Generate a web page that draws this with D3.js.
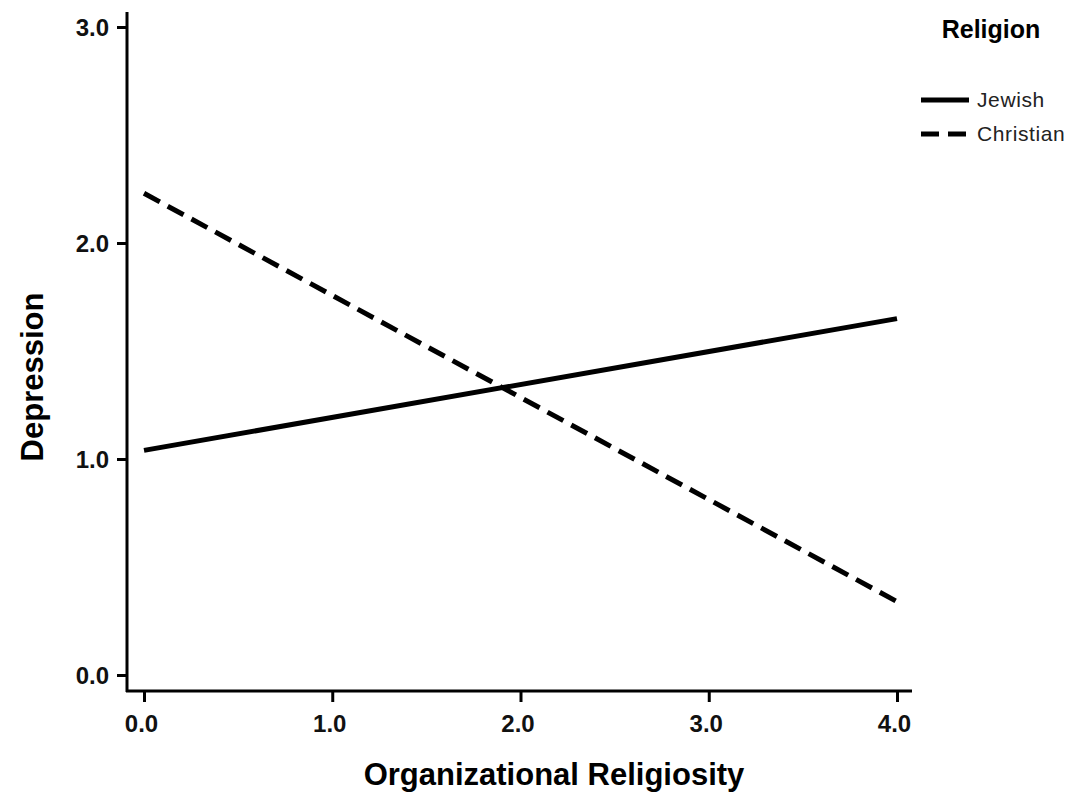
<!DOCTYPE html>
<html>
<head>
<meta charset="utf-8">
<script src="https://cdn.jsdelivr.net/npm/d3@7"></script>
<style>
	body { margin: 0; background: #fff; }
	text { font-family: "Liberation Sans", Arial, sans-serif; }
</style>
</head>
<body>
<svg id="chart" width="1073" height="796"></svg>
<script>
var xTicks = [0, 1, 2, 3, 4],
	yTicks = [0, 1, 2, 3];

var religions = ["Jewish", "Christian"],
	dashes = ["none", "18,9"];

// predicted depression at organizational religiosity 0 and 4
var orgRel = [0, 4],
	jewish = [1.04, 1.65],
	christian = [2.23, 0.34];

var svg = d3.select("#chart");

var x = d3.scaleLinear().domain([0, 4]).range([144, 897]);
var y = d3.scaleLinear().domain([0, 3]).range([675, 27]);

// axes
var xAxis = svg.append("g")
	.attr("transform", "translate(0,691)")
	.call(d3.axisBottom(x).tickValues(xTicks).tickFormat(d3.format(".1f")).tickSize(11).tickSizeOuter(0));
xAxis.select(".domain").attr("d", "M126,0H912");

var yAxis = svg.append("g")
	.attr("transform", "translate(127,0)")
	.call(d3.axisLeft(y).tickValues(yTicks).tickFormat(d3.format(".1f")).tickSize(10).tickSizeOuter(0));
yAxis.select(".domain").attr("d", "M0,12V692");

svg.selectAll(".domain").attr("stroke", "#000").attr("stroke-width", 3);
svg.selectAll(".tick line").attr("stroke", "#000").attr("stroke-width", 3);
svg.selectAll(".tick text")
	.attr("font-size", 24)
	.attr("font-weight", "bold")
	.attr("fill", "#111");
xAxis.selectAll(".tick text").attr("y", 0).attr("dy", 0).attr("transform", "translate(-3,41)");
yAxis.selectAll(".tick text").attr("x", -18).attr("dy", "0.36em");

// axis titles
svg.append("text")
	.attr("x", 554).attr("y", 785)
	.attr("text-anchor", "middle")
	.attr("font-size", 31).attr("font-weight", "bold")
	.text("Organizational Religiosity");

svg.append("text")
	.attr("transform", "translate(43,377) rotate(-90)")
	.attr("text-anchor", "middle")
	.attr("font-size", 31).attr("font-weight", "bold")
	.text("Depression");

// lines
var series = [jewish, christian];
var line = d3.line()
	.x(function(d, i) { return x(orgRel[i]); })
	.y(function(d) { return y(d); });

svg.selectAll(".series")
	.data(series)
	.enter()
	.append("path")
	.attr("class", "series")
	.attr("d", line)
	.attr("fill", "none")
	.attr("stroke", "#000")
	.attr("stroke-width", 5)
	.attr("stroke-dasharray", function(d, i) { return dashes[i]; });

// legend
svg.append("text")
	.attr("x", 991).attr("y", 38)
	.attr("text-anchor", "middle")
	.attr("font-size", 25).attr("font-weight", "bold")
	.text("Religion");

var legend = svg.selectAll(".legend")
	.data(religions)
	.enter()
	.append("g")
	.attr("class", "legend")
	.attr("transform", function(d, i) { return "translate(921," + (100 + i * 34) + ")"; });

legend.append("line")
	.attr("x1", 0).attr("x2", 48)
	.attr("stroke", "#000")
	.attr("stroke-width", 5)
	.attr("stroke-dasharray", function(d, i) { return i ? "18,9" : "none"; });

legend.append("text")
	.attr("x", 56).attr("y", 7)
	.attr("font-size", 21)
	.attr("letter-spacing", 0.6)
	.attr("fill", "#222")
	.text(function(d) { return d; });
</script>
</body>
</html>
